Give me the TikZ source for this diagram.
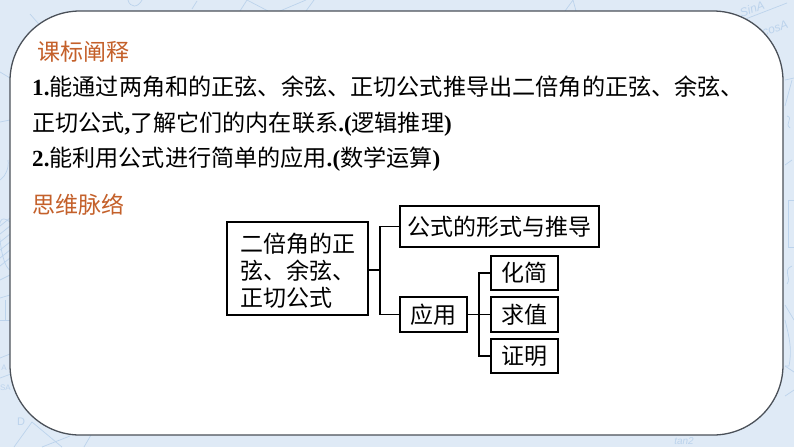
\documentclass[tikz,border=0pt]{standalone}
\usepackage{fontspec}
\setmainfont{Liberation Serif}
\setsansfont{Liberation Sans}
\newfontfamily\cjk{Noto Sans CJK SC}
\definecolor{bgblue}{HTML}{DFEAF6}
\definecolor{sketch}{HTML}{BCD3EC}
\definecolor{head}{HTML}{C4602A}
\definecolor{rim}{HTML}{4A5058}
\tikzset{
  boxn/.style={draw=black,line width=1.8pt,fill=white,inner sep=0pt,font=\cjk\fontsize{23}{27}\selectfont},
  wire/.style={draw=black,line width=1.8pt},
  headtxt/.style={anchor=west,inner sep=0pt,text=head,font=\cjk\fontsize{23}{23}\selectfont},
  bodytxt/.style={anchor=base west,inner sep=0pt,text=black},
  scrib/.style={draw=sketch,line width=0.7pt},
  scribtxt/.style={text=sketch,inner sep=0pt,font=\sffamily\itshape\fontsize{12}{12}\selectfont},
  scribsmall/.style={text=sketch,inner sep=0pt,font=\sffamily\fontsize{8}{8}\selectfont}
}
\newcommand{\nb}[1]{{\bfseries #1}}
\newcommand{\zh}[1]{{\cjk #1}}
\begin{document}
\begin{tikzpicture}[x=1pt,y=-1pt]
\useasboundingbox (0,0) rectangle (794,447);
\fill[bgblue] (0,0) rectangle (794,447);
% faint background sketches: top
\draw[scrib] (128,0) .. controls (130,8) and (138,8) .. (142,0);
\draw[scrib] (192,9) -- (197,1);
\draw[scrib] (240,11) -- (247,0) -- (268,11);
\draw[scrib] (280,11) -- (306,0);
\draw[scrib] (306,11) -- (314,0);
\draw[scrib] (565,11) -- (573,0) -- (576,11);
% left
\draw[scrib] (30,14) -- (44,30);
\draw[scrib] (0,72) -- (10,78);
\draw[scrib] (0,122) -- (10,120);
\draw[scrib] (0,180) .. controls (6,176) and (9,168) .. (8,160);
\draw[scrib] (10,222) .. controls (0,214) and (-2,222) .. (0,240) .. controls (2,258) and (6,268) .. (10,270);
\foreach \k in {0,1,2,3,4,5}{\draw[scrib] (0,226+8*\k) -- (10,218+8*\k);}
\draw[scrib] (0,280) -- (10,275);
\draw[scrib] (0,298) -- (10,295);
\draw[scrib] (0,320) -- (10,320);
\draw[scrib] (5,300) -- (5,320);
\draw[scrib] (0,358) -- (10,354);
\draw[scrib] (0,378) -- (11,374);
\node[scribsmall] (sa) at (4,368) {A};
\node[scribsmall] (sb) at (5.5,388) {SA};
\node[scribsmall,font=\sffamily\fontsize{11}{11}\selectfont] (sd) at (21,422) {D};
% bottom
\draw[scrib] (14,447) -- (32,422) -- (62,447);
\draw[scrib] (42,447) -- (70,436);
\draw[scrib] (84,447) -- (91,435);
\node[scribsmall,font=\sffamily\itshape\fontsize{10}{10}\selectfont] (tant) at (684,441) {tan2};
% right
\draw[scrib] (743,20) -- (787,3);
\node[scribtxt,rotate=20] (sina) at (752,9) {SinA};
\node[scribtxt,rotate=20] (cosa) at (775,28) {cosA};
\draw[scrib] (785,80) -- (794,78);
\draw[scrib] (785,106) -- (792,80);
\draw[scrib] (787,116) .. controls (794,118) and (784,124) .. (790,128);
\draw[scrib] (785,165) -- (792,160);
\draw[scrib] (794,200) -- (788,200) -- (788,247) -- (794,247);
\draw[scrib] (792,266) .. controls (782,270) and (792,278) .. (787,284);
\draw[scrib] (785,305) -- (794,320);
\draw[scrib] (785,320) .. controls (790,340) and (792,350) .. (789,366) -- (785,366);
\draw[scrib] (785,366) -- (794,372);
\draw[scrib] (785,396) -- (794,390);
% panel
\draw[draw=rim,line width=1.3pt,fill=white,rounded corners=70pt] (10,11) rectangle (783,435);
% headings
\node[headtxt] (h1) at (37,52) {课标阐释};
\node[headtxt] (h2) at (32,205) {思维脉络};
% body
\node[bodytxt,font=\fontsize{23.15}{23.15}\selectfont] (l1) at (32,95) {\nb{1.}\zh{能通过两角和的正弦、余弦、正切公式推导出二倍角的正弦、余弦、}};
\node[bodytxt,font=\fontsize{23.1}{23.1}\selectfont] (l2) at (32,131) {\zh{正切公式}\nb{,}\zh{了解它们的内在联系}\nb{.(}\zh{逻辑推理}\nb{)}};
\node[bodytxt,font=\fontsize{23.1}{23.1}\selectfont] (l3) at (32,166) {\nb{2.}\zh{能利用公式进行简单的应用}\nb{.(}\zh{数学运算}\nb{)}};
% boxes
\node[boxn,minimum width=141pt,minimum height=93pt,align=left] (main) at (297.5,268.5) {\rule{0pt}{24pt}二倍角的正\\弦、余弦、\\正切公式};
\node[boxn,minimum width=199pt,minimum height=41pt] (form) at (499.5,226.5) {公式的形式与推导};
\node[boxn,minimum width=67pt,minimum height=35pt] (app) at (433.5,314.5) {应用};
\node[boxn,minimum width=67pt,minimum height=34pt] (simp) at (524.5,273) {化简};
\node[boxn,minimum width=67pt,minimum height=35pt] (val) at (524.5,314.5) {求值};
\node[boxn,minimum width=67pt,minimum height=34pt] (prove) at (524.5,356) {证明};
% connectors
\coordinate (t1) at (380,270);
\coordinate (t2) at (479,314.5);
\draw[wire] (main.east|-t1) -- (t1);
\draw[wire,line cap=rect] (form.west) -- (t1|-form.west) -- (t1|-app.west) -- (app.west);
\draw[wire] (app.east) -- (val.west);
\draw[wire,line cap=rect] (simp.west) -- (t2|-simp.west) -- (t2|-prove.west) -- (prove.west);
\end{tikzpicture}
\end{document}
